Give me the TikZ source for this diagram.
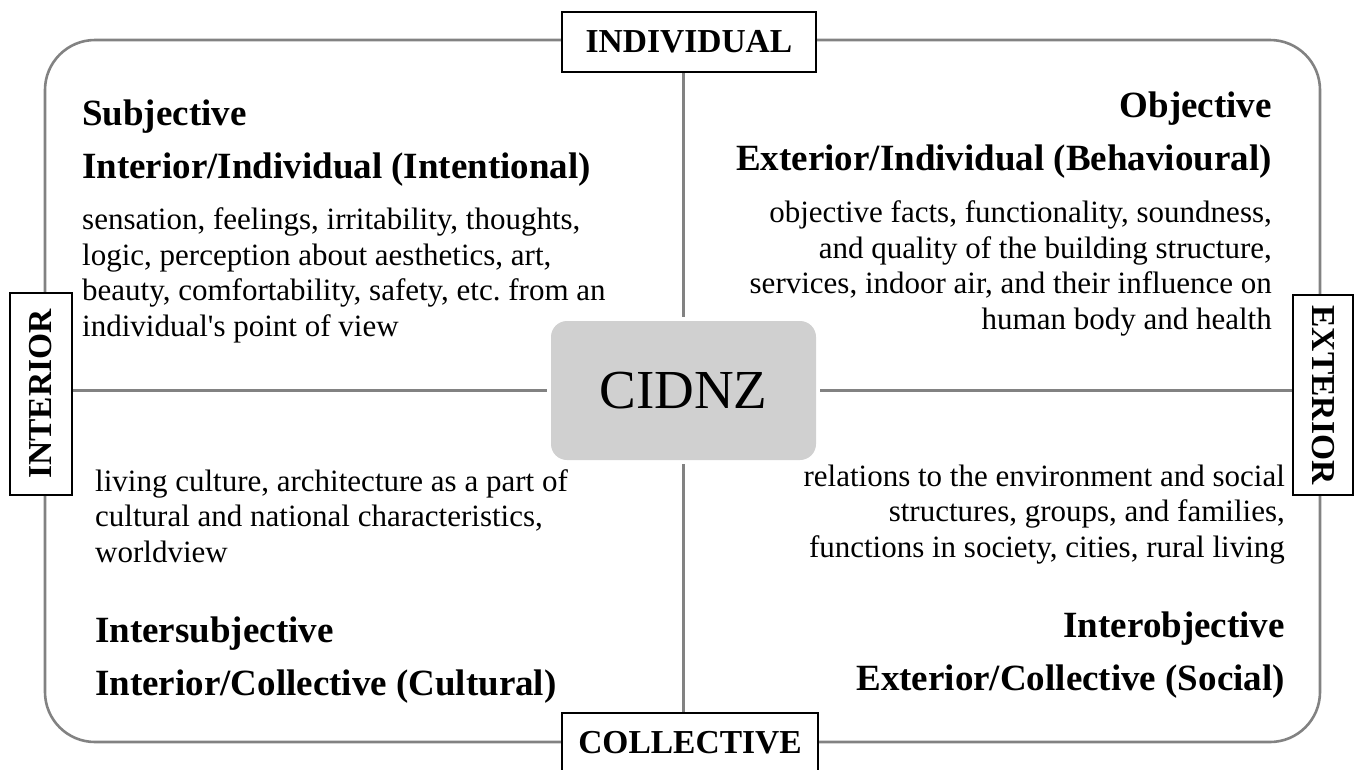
\documentclass[tikz,border=0pt]{standalone}
\usepackage{fontspec}
\setmainfont{Liberation Serif}[Ligatures=TeXOff]
\usetikzlibrary{positioning}
\frenchspacing

\definecolor{rimgray}{RGB}{130,130,130}
\definecolor{hubgray}{RGB}{208,208,208}

\tikzset{
  rim/.style={draw=rimgray, line width=2.6pt},
  axisbox/.style={draw=black, line width=1.2pt, fill=white, inner sep=0pt,
    font=\fontsize{33.5}{40}\selectfont\bfseries},
  title/.style={inner sep=0pt, font=\fontsize{37}{53}\selectfont\bfseries},
  body/.style={inner sep=0pt, font=\fontsize{31}{35.5}\selectfont}
}

\begin{document}
\begin{tikzpicture}[x=1pt,y=-1pt]

\useasboundingbox (0,0) rectangle (1355,769);
\clip (0,0) rectangle (1355,769);

% outer frame
\draw[rim, rounded corners=50pt] (45,40) rectangle (1320,742);

% centre and axis labels
\node[fill=hubgray, rounded corners=16pt, minimum width=265pt, minimum height=139pt,
  font=\fontsize{55}{60}\selectfont] (hub) at (683.5,390.5) {CIDNZ};

\node[axisbox, minimum width=254pt, minimum height=60pt] (indiv) at (689,42) {INDIVIDUAL};
\node[axisbox, minimum width=256pt, minimum height=60pt] (coll) at (690,743) {COLLECTIVE};
\node[axisbox, rotate=90, minimum width=202pt, minimum height=62pt] (inter) at (41,394) {INTERIOR};
\node[axisbox, rotate=-90, minimum width=200pt, minimum height=60pt] (exter) at (1323,395) {EXTERIOR};

% dividers
\draw[rim, shorten <=4pt] (hub.north) -- (hub.north |- indiv.south);
\draw[rim, shorten <=4pt] (hub.south) -- (hub.south |- coll.north);
\draw[rim, shorten <=4pt] (hub.west) -- (hub.west -| inter.south);
\draw[rim, shorten <=4pt] (hub.east) -- (hub.east -| exter.south);

% upper left
\node[title, align=left, anchor=base west] (subjT) at (82,178)
  {Subjective\\Interior/Individual (Intentional)};
\node[body, align=left, anchor=base west] (subjB) at (82,336)
  {sensation, feelings, irritability, thoughts,\\logic, perception about aesthetics, art,\\beauty, comfortability, safety, etc. from an\\individual's point of view};

% upper right
\node[title, align=right, anchor=base east] (objT) at (1272,170)
  {Objective\\Exterior/Individual (Behavioural)};
\node[body, align=right, anchor=base east] (objB) at (1272,329)
  {objective facts, functionality, soundness,\\and quality of the building structure,\\services, indoor air, and their influence on\\human body and health};

% lower left
\node[body, align=left, anchor=base west] (isubB) at (95,562)
  {living culture, architecture as a part of\\cultural and national characteristics,\\worldview};
\node[title, align=left, anchor=base west] (isubT) at (95,695)
  {Intersubjective\\Interior/Collective (Cultural)};

% lower right
\node[body, align=right, anchor=base east] (iobjB) at (1285,557)
  {relations to the environment and social\\structures, groups, and families,\\functions in society, cities, rural living};
\node[title, align=right, anchor=base east] (iobjT) at (1285,690)
  {Interobjective\\Exterior/Collective (Social)};

\end{tikzpicture}
\end{document}
